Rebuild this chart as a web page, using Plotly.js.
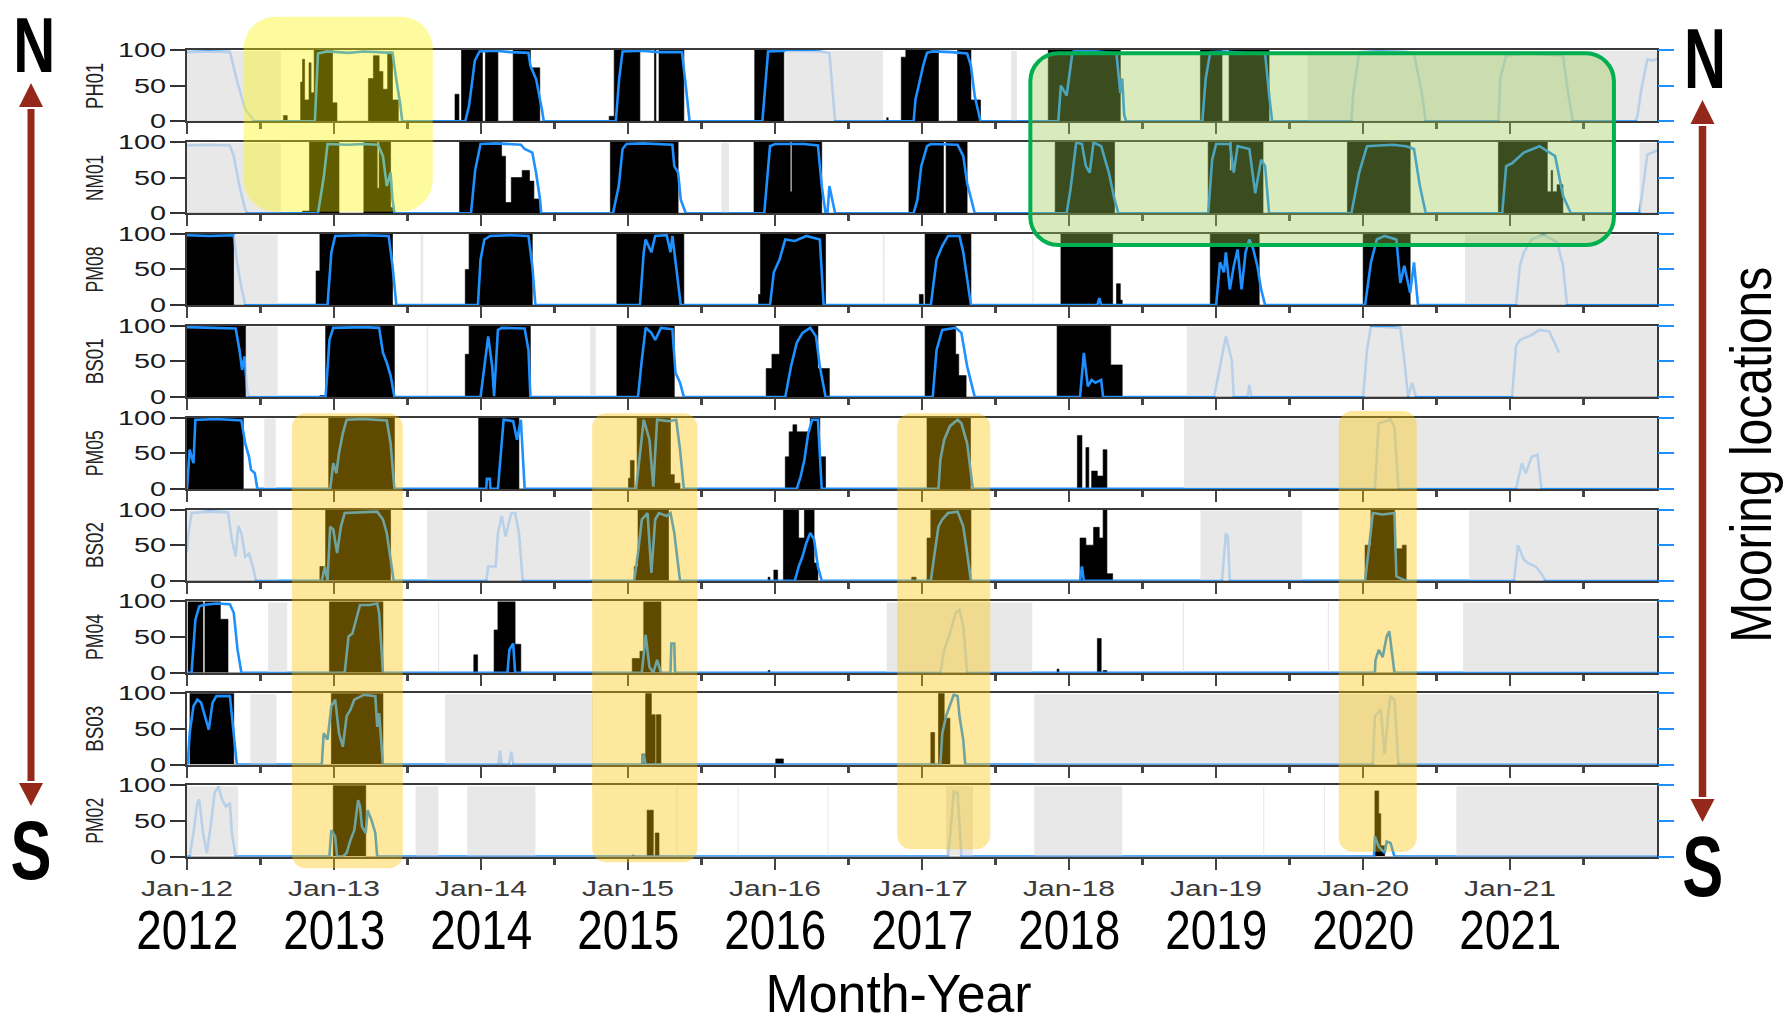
<!DOCTYPE html>
<html><head><meta charset="utf-8">
<script src="https://cdn.plot.ly/plotly-3.0.1.min.js"></script>
<style>
html,body{margin:0;padding:0;background:#fff;}
#chart{width:1785px;height:1024px;}
</style></head><body><div id="chart"></div>
<script>
// ---------- categories / labels ----------
const moorings = ['PH01','NM01','PM08','BS01','PM05','BS02','PM04','BS03','PM02'];
const tickYears = [2012,2013,2014,2015,2016,2017,2018,2019,2020,2021];
const midYears = [2012.5,2013.5,2014.5,2015.5,2016.5,2017.5,2018.5,2019.5,2020.5,2021.5];
const tickLabels = ['Jan-12','Jan-13','Jan-14','Jan-15','Jan-16','Jan-17','Jan-18','Jan-19','Jan-20','Jan-21'];
const yearLabels = ['2012','2013','2014','2015','2016','2017','2018','2019','2020','2021'];
const yTicks = [0,50,100];

// ---------- data: [decimal year, value %] ----------
// black = presence bars (step), blue = percentage line, gray = periods without recording
const ph01Black = [[2012,0],[2012.656,8],[2012.682,0],[2012.773,55],[2012.786,87],[2012.80,30],[2012.83,82],[2012.844,40],[2012.865,100],[2012.99,26],[2013.02,0],[2013.234,60],[2013.268,92],[2013.307,70],[2013.333,45],[2013.365,97],[2013.398,30],[2013.4375,0],[2013.823,38],[2013.85,0],[2013.867,100],[2014.01,0],[2014.03,100],[2014.115,0],[2014.219,100],[2014.336,75],[2014.40,0],[2014.872,7],[2014.906,100],[2015.081,0],[2015.18,100],[2015.19,0],[2015.211,100],[2015.38,0],[2015.862,100],[2016.06,0],[2016.76,5],[2016.77,0],[2016.859,90],[2016.89,100],[2017.112,0],[2017.242,100],[2017.333,30],[2017.398,0],[2017.859,100],[2018.349,0],[2018.894,100],[2019.041,0],[2019.089,100],[2019.361,0],[2022,0]];
const ph01Blue = [[2012,97],[2012.15,98],[2012.292,97],[2012.344,54],[2012.396,17],[2012.461,0],[2012.87,0],[2012.891,95],[2012.95,98],[2013.1,96],[2013.2,98],[2013.3,97],[2013.398,96],[2013.424,58],[2013.45,25],[2013.464,0],[2013.893,0],[2013.919,22],[2013.958,85],[2013.99,98],[2014.1,99],[2014.2,97],[2014.323,96],[2014.336,78],[2014.375,59],[2014.414,17],[2014.427,0],[2014.917,0],[2014.94,60],[2014.963,98],[2015.1,99],[2015.2,97],[2015.367,97],[2015.393,50],[2015.419,0],[2015.914,0],[2015.935,60],[2015.953,98],[2016.1,99],[2016.3,98],[2016.37,96],[2016.409,0],[2016.943,0],[2016.956,31],[2016.982,54],[2017.008,78],[2017.034,96],[2017.073,98],[2017.2,97],[2017.307,95],[2017.333,78],[2017.359,35],[2017.398,0],[2017.927,0],[2017.945,50],[2017.984,36],[2018.023,96],[2018.036,99],[2018.2,98],[2018.323,95],[2018.349,40],[2018.362,60],[2018.375,10],[2018.388,0],[2018.907,0],[2018.93,60],[2018.961,97],[2019.05,98],[2019.2,96],[2019.334,95],[2019.36,40],[2019.382,0],[2019.921,0],[2019.934,40],[2019.974,97],[2020.1,98],[2020.3,97],[2020.347,95],[2020.4,40],[2020.427,0],[2020.921,0],[2020.934,60],[2020.974,92],[2021.1,95],[2021.3,93],[2021.361,92],[2021.388,50],[2021.427,0],[2021.854,0],[2021.867,8],[2021.894,45],[2021.934,87],[2021.974,85],[2022,88]];
const ph01Gray = [[2012,2012.638],[2016.07,2016.734],[2017.607,2017.646],[2019.622,2022]];

const nm01Black = [[2012,0],[2012.786,3],[2012.833,100],[2013.034,0],[2013.203,100],[2013.294,35],[2013.307,100],[2013.385,8],[2013.41,0],[2013.854,100],[2014.14,80],[2014.167,15],[2014.206,50],[2014.28,60],[2014.33,45],[2014.36,20],[2014.40,0],[2014.88,100],[2015.341,0],[2015.857,100],[2016.104,30],[2016.115,100],[2016.318,0],[2016.911,100],[2017.146,0],[2017.164,100],[2017.307,0],[2017.906,100],[2018.31,0],[2018.947,100],[2019.094,60],[2019.107,100],[2019.32,0],[2019.894,100],[2020.321,0],[2020.921,100],[2021.254,30],[2021.28,60],[2021.29,30],[2021.32,40],[2021.36,0],[2022,0]];
const nm01Blue = [[2012,95],[2012.15,96],[2012.292,95],[2012.318,80],[2012.357,38],[2012.396,5],[2012.41,0],[2012.891,0],[2012.93,50],[2012.956,97],[2013.1,96],[2013.2,97],[2013.30,96],[2013.333,80],[2013.359,38],[2013.385,57],[2013.398,19],[2013.411,0],[2013.932,0],[2013.96,60],[2013.997,97],[2014.1,98],[2014.271,96],[2014.297,90],[2014.349,85],[2014.375,56],[2014.401,20],[2014.41,0],[2014.898,0],[2014.937,38],[2014.963,90],[2014.99,97],[2015.1,98],[2015.302,96],[2015.315,66],[2015.341,57],[2015.359,19],[2015.393,0],[2015.927,0],[2015.966,94],[2016.0,97],[2016.2,97],[2016.292,95],[2016.318,38],[2016.344,0],[2016.357,0],[2016.37,38],[2016.39,20],[2016.409,0],[2016.943,0],[2016.969,19],[2016.995,66],[2017.034,94],[2017.06,97],[2017.242,96],[2017.281,80],[2017.307,42],[2017.359,0],[2017.984,0],[2018.01,33],[2018.049,99],[2018.088,97],[2018.115,66],[2018.141,57],[2018.167,99],[2018.219,94],[2018.271,57],[2018.31,19],[2018.336,0],[2018.947,0],[2018.974,75],[2019.001,97],[2019.094,97],[2019.121,57],[2019.147,94],[2019.227,90],[2019.267,28],[2019.307,75],[2019.334,66],[2019.361,0],[2019.921,0],[2019.974,57],[2020.027,94],[2020.2,96],[2020.294,94],[2020.347,90],[2020.387,38],[2020.427,0],[2020.947,0],[2020.974,66],[2021.014,70],[2021.094,85],[2021.201,94],[2021.307,80],[2021.361,24],[2021.414,0],[2021.881,0],[2021.934,82],[2022,88]];
const nm01Gray = [[2012,2012.638],[2015.635,2015.687],[2021.881,2022]];

const pm08Black = [[2012,100],[2012.318,0],[2012.878,48],[2012.904,100],[2013.398,0],[2013.893,50],[2013.919,100],[2014.349,0],[2014.924,100],[2015.38,0],[2015.888,15],[2015.901,100],[2016.344,0],[2016.982,15],[2017.008,0],[2017.021,100],[2017.333,0],[2017.945,100],[2018.297,0],[2018.323,30],[2018.349,7],[2018.362,0],[2018.961,100],[2019.294,0],[2020.001,100],[2020.321,0],[2022,0]];
const pm08Blue = [[2012,98],[2012.15,97],[2012.318,98],[2012.34,60],[2012.37,25],[2012.396,0],[2012.956,0],[2012.982,74],[2013.008,97],[2013.2,98],[2013.372,97],[2013.398,55],[2013.424,0],[2013.979,0],[2013.997,64],[2014.023,92],[2014.0625,97],[2014.2,98],[2014.323,97],[2014.349,55],[2014.37,0],[2015.081,0],[2015.107,74],[2015.12,92],[2015.159,74],[2015.185,97],[2015.263,98],[2015.289,74],[2015.302,97],[2015.328,55],[2015.359,0],[2015.966,0],[2015.992,46],[2016.031,64],[2016.07,92],[2016.135,90],[2016.213,97],[2016.305,92],[2016.331,0],[2017.06,0],[2017.099,64],[2017.138,83],[2017.177,97],[2017.255,97],[2017.281,74],[2017.333,0],[2018.193,0],[2018.206,10],[2018.219,0],[2019.001,0],[2019.027,60],[2019.054,46],[2019.067,74],[2019.094,22],[2019.121,55],[2019.147,78],[2019.174,22],[2019.201,74],[2019.227,92],[2019.254,78],[2019.281,55],[2019.307,22],[2019.334,0],[2020.014,0],[2020.054,60],[2020.094,92],[2020.147,97],[2020.227,92],[2020.254,31],[2020.281,55],[2020.321,17],[2020.347,60],[2020.374,0],[2021.041,0],[2021.067,55],[2021.094,74],[2021.147,92],[2021.227,99],[2021.321,88],[2021.361,55],[2021.388,0],[2022,0]];
const pm08Gray = [[2012.32,2012.617],[2013.589,2013.607],[2016.734,2016.745],[2017.75,2017.758],[2020.694,2022]];

const bs01Black = [[2012,100],[2012.40,0],[2012.904,2],[2012.943,100],[2013.411,0],[2013.893,60],[2013.919,100],[2014.336,0],[2014.924,100],[2015.315,0],[2015.94,40],[2015.979,60],[2016.031,100],[2016.292,40],[2016.37,0],[2017.021,100],[2017.229,60],[2017.25,30],[2017.3,0],[2017.919,100],[2018.284,45],[2018.362,0],[2022,0]];
const bs01Blue = [[2012,98],[2012.15,97],[2012.331,96],[2012.357,66],[2012.375,38],[2012.391,57],[2012.409,10],[2012.42,0],[2012.943,0],[2012.969,80],[2012.995,97],[2013.2,98],[2013.307,97],[2013.333,62],[2013.359,48],[2013.385,30],[2013.411,0],[2013.997,0],[2014.023,43],[2014.049,85],[2014.076,43],[2014.089,1],[2014.115,94],[2014.141,97],[2014.297,96],[2014.323,66],[2014.336,0],[2015.068,0],[2015.094,52],[2015.12,97],[2015.159,90],[2015.185,80],[2015.224,97],[2015.302,95],[2015.323,34],[2015.354,20],[2015.38,0],[2016.07,0],[2016.109,43],[2016.148,76],[2016.187,90],[2016.24,97],[2016.279,85],[2016.305,43],[2016.344,0],[2017.073,0],[2017.099,66],[2017.138,94],[2017.229,97],[2017.268,90],[2017.307,43],[2017.359,0],[2018.075,0],[2018.101,62],[2018.128,15],[2018.154,24],[2018.18,20],[2018.219,24],[2018.232,0],[2018.987,0],[2019.067,85],[2019.107,52],[2019.121,0],[2019.214,0],[2019.227,17],[2019.241,0],[2020.001,0],[2020.027,66],[2020.054,99],[2020.081,99],[2020.254,97],[2020.281,52],[2020.307,0],[2020.334,20],[2020.361,0],[2021.014,0],[2021.041,71],[2021.067,80],[2021.147,87],[2021.201,94],[2021.267,92],[2021.334,62]];
const bs01Gray = [[2012.40,2012.617],[2013.63,2013.64],[2014.742,2014.781],[2018.801,2022]];

const pm05Black = [[2012,100],[2012.383,0],[2012.964,100],[2013.411,0],[2013.984,100],[2014.258,0],[2015.003,15],[2015.016,40],[2015.042,0],[2015.062,100],[2015.289,20],[2015.315,8],[2015.354,0],[2016.07,45],[2016.096,80],[2016.122,90],[2016.148,80],[2016.24,100],[2016.305,45],[2016.344,0],[2017.034,100],[2017.30,100],[2017.33,0],[2018.057,75],[2018.088,0],[2018.115,58],[2018.135,0],[2018.154,25],[2018.193,18],[2018.232,55],[2018.258,0],[2022,0]];
const pm05Blue = [[2012,0],[2012.018,55],[2012.044,36],[2012.057,97],[2012.083,97],[2012.2,98],[2012.37,96],[2012.396,64],[2012.422,45],[2012.435,27],[2012.461,22],[2012.479,0],[2012.974,0],[2012.995,36],[2013.016,22],[2013.034,50],[2013.06,78],[2013.086,97],[2013.2,98],[2013.359,96],[2013.385,64],[2013.411,0],[2014.036,0],[2014.04,14],[2014.06,14],[2014.064,0],[2014.115,0],[2014.141,69],[2014.154,97],[2014.219,95],[2014.245,69],[2014.271,97],[2014.297,0],[2015.055,0],[2015.094,78],[2015.107,97],[2015.146,69],[2015.172,3],[2015.198,97],[2015.276,95],[2015.328,97],[2015.354,55],[2015.38,0],[2016.148,0],[2016.174,17],[2016.2,41],[2016.226,78],[2016.253,97],[2016.292,97],[2016.318,0],[2017.112,0],[2017.125,41],[2017.151,69],[2017.19,88],[2017.242,97],[2017.268,92],[2017.307,64],[2017.346,0],[2020.081,0],[2020.107,92],[2020.187,97],[2020.214,87],[2020.241,0],[2021.041,0],[2021.081,36],[2021.107,22],[2021.147,45],[2021.187,48],[2021.214,0],[2022,0]];
const pm05Gray = [[2012.526,2012.604],[2018.782,2022]];

const bs02Black = [[2012,0],[2012.904,20],[2012.943,100],[2013.385,0],[2015.042,20],[2015.068,100],[2015.276,0],[2015.953,5],[2015.966,0],[2015.992,15],[2016.018,0],[2016.057,100],[2016.161,60],[2016.2,100],[2016.266,25],[2016.292,0],[2016.93,5],[2016.96,0],[2017.034,60],[2017.06,100],[2017.333,0],[2018.075,60],[2018.115,50],[2018.167,75],[2018.206,60],[2018.232,100],[2018.258,10],[2018.297,0],[2020.014,50],[2020.054,100],[2020.214,45],[2020.267,50],[2020.294,0],[2022,0]];
const bs02Blue = [[2012,40],[2012.01,67],[2012.031,95],[2012.15,97],[2012.279,96],[2012.305,58],[2012.331,34],[2012.349,77],[2012.37,67],[2012.396,34],[2012.422,38],[2012.448,20],[2012.469,0],[2012.917,0],[2012.9375,20],[2012.956,0],[2012.974,76],[2012.995,72],[2013.021,39],[2013.047,76],[2013.073,95],[2013.294,97],[2013.333,86],[2013.359,67],[2013.385,30],[2013.406,0],[2014.036,0],[2014.049,20],[2014.10,20],[2014.115,67],[2014.141,91],[2014.167,62],[2014.206,95],[2014.232,95],[2014.258,67],[2014.284,0],[2015.042,0],[2015.068,39],[2015.094,86],[2015.133,95],[2015.159,11],[2015.185,86],[2015.211,95],[2015.263,91],[2015.289,95],[2015.315,67],[2015.354,0],[2016.135,0],[2016.161,20],[2016.187,34],[2016.213,53],[2016.24,67],[2016.266,58],[2016.292,20],[2016.318,0],[2017.06,0],[2017.086,39],[2017.112,76],[2017.138,86],[2017.177,95],[2017.242,97],[2017.281,76],[2017.307,39],[2017.333,0],[2018.075,0],[2018.088,20],[2018.101,0],[2019.041,0],[2019.067,67],[2019.081,62],[2019.094,0],[2020.014,0],[2020.041,48],[2020.067,95],[2020.134,93],[2020.214,95],[2020.227,6],[2020.281,1],[2020.307,0],[2021.027,0],[2021.054,50],[2021.094,30],[2021.121,25],[2021.174,20],[2021.214,10],[2021.241,0],[2022,0]];
const bs02Gray = [[2012,2012.617],[2013.633,2014.742],[2018.894,2019.587],[2020.721,2022]];

const pm04Black = [[2012.005,100],[2012.109,0],[2012.122,100],[2012.227,75],[2012.279,0],[2012.969,100],[2013.333,0],[2013.951,25],[2013.977,0],[2014.089,60],[2014.115,100],[2014.232,40],[2014.271,0],[2015.029,20],[2015.081,30],[2015.107,100],[2015.224,0],[2015.953,3],[2015.966,0],[2017.919,5],[2017.932,0],[2018.193,48],[2018.219,0],[2018.232,3],[2018.258,0],[2022,0]];
const pm04Blue = [[2012,0],[2012.031,0],[2012.057,74],[2012.083,93],[2012.109,95],[2012.2,97],[2012.292,96],[2012.318,84],[2012.344,32],[2012.37,0],[2013.073,0],[2013.099,51],[2013.125,55],[2013.151,74],[2013.177,95],[2013.242,95],[2013.294,97],[2013.307,84],[2013.32,41],[2013.333,0],[2014.18,0],[2014.193,32],[2014.219,41],[2014.232,0],[2015.094,0],[2015.12,53],[2015.146,8],[2015.172,0],[2015.198,18],[2015.224,0],[2015.289,0],[2015.295,41],[2015.315,41],[2015.32,0],[2017.125,0],[2017.151,32],[2017.19,55],[2017.229,84],[2017.255,88],[2017.281,65],[2017.307,0],[2020.081,0],[2020.085,18],[2020.107,32],[2020.134,22],[2020.161,51],[2020.179,58],[2020.201,18],[2020.214,0],[2022,0]];
const pm04Gray = [[2012.552,2012.682],[2013.707,2013.715],[2016.76,2017.75],[2018.774,2018.782],[2019.761,2019.769],[2020.681,2022]];

const bs03Black = [[2012.018,100],[2012.318,0],[2012.982,100],[2013.333,0],[2015.094,15],[2015.12,100],[2015.159,70],[2015.185,0],[2015.193,70],[2015.224,0],[2016.005,8],[2016.057,0],[2017.06,45],[2017.086,0],[2017.112,100],[2017.151,65],[2017.19,0],[2022,0]];
const bs03Blue = [[2012,0],[2012.005,0],[2012.018,44],[2012.044,82],[2012.07,91],[2012.096,87],[2012.122,68],[2012.148,49],[2012.174,87],[2012.2,96],[2012.292,96],[2012.318,44],[2012.339,0],[2012.917,0],[2012.93,44],[2012.956,35],[2012.982,82],[2013.008,91],[2013.034,44],[2013.06,25],[2013.086,68],[2013.112,77],[2013.138,91],[2013.203,98],[2013.281,96],[2013.294,53],[2013.307,72],[2013.333,0],[2014.12,0],[2014.128,20],[2014.141,0],[2014.19,0],[2014.206,18],[2014.22,0],[2015.094,0],[2015.107,15],[2015.12,0],[2017.125,0],[2017.138,44],[2017.164,68],[2017.19,82],[2017.216,98],[2017.242,96],[2017.255,68],[2017.281,34],[2017.294,0],[2020.067,0],[2020.081,68],[2020.121,77],[2020.147,15],[2020.174,77],[2020.187,96],[2020.214,91],[2020.241,0],[2022,0]];
const bs03Gray = [[2012.43,2012.609],[2013.755,2014.76],[2017.763,2022]];

const pm02Black = [[2012,0],[2012.995,100],[2013.216,0],[2015.029,2],[2015.042,0],[2015.13,65],[2015.172,0],[2015.185,33],[2015.211,0],[2020.081,92],[2020.107,60],[2020.121,15],[2020.147,0],[2022,0]];
const pm02Blue = [[2012,0],[2012.018,0],[2012.044,33],[2012.07,75],[2012.083,80],[2012.109,33],[2012.135,5],[2012.161,42],[2012.1875,89],[2012.214,98],[2012.24,79],[2012.266,70],[2012.292,75],[2012.305,33],[2012.331,0],[2012.969,0],[2012.982,37],[2013.008,28],[2013.021,0],[2013.06,0],[2013.086,5],[2013.112,23],[2013.138,37],[2013.164,79],[2013.177,70],[2013.19,42],[2013.216,33],[2013.229,65],[2013.255,51],[2013.281,33],[2013.294,0],[2017.177,0],[2017.203,56],[2017.216,91],[2017.242,89],[2017.255,42],[2017.268,0],[2020.075,0],[2020.081,28],[2020.107,14],[2020.147,5],[2020.161,21],[2020.187,19],[2020.214,0],[2022,0]];
const pm02Gray = [[2012,2012.349],[2013.555,2013.711],[2013.906,2014.37],[2015.328,2015.335],[2015.745,2015.752],[2016.357,2016.364],[2017.164,2017.346],[2017.763,2018.362],[2019.321,2019.328],[2019.734,2019.741],[2020.635,2022]];

const blackSeries = [ph01Black,nm01Black,pm08Black,bs01Black,pm05Black,bs02Black,pm04Black,bs03Black,pm02Black];
const blueSeries  = [ph01Blue,nm01Blue,pm08Blue,bs01Blue,pm05Blue,bs02Blue,pm04Blue,bs03Blue,pm02Blue];
const graySeries  = [ph01Gray,nm01Gray,pm08Gray,bs01Gray,pm05Gray,bs02Gray,pm04Gray,bs03Gray,pm02Gray];

// highlighted periods: [start, end] in decimal years, vertical extent in page pixels
const highlightStart = [2012.385, 2017.737, 2012.713, 2014.756, 2016.831, 2019.835];
const highlightEnd   = [2013.672, 2021.707, 2013.468, 2015.472, 2017.464, 2020.366];
const highlightTopPx = [16.7, 53.3, 413.3, 413.3, 413.3, 411];
const highlightBotPx = [211.7, 245, 868.3, 862.3, 849.3, 851.7];
const highlightFill  = ['rgba(250,245,0,0.38)','rgba(155,200,80,0.38)','rgba(250,195,0,0.38)','rgba(250,195,0,0.38)','rgba(250,195,0,0.38)','rgba(250,195,0,0.38)'];
const highlightLine  = [null,'#00b050',null,null,null,null];
const highlightRadius= [32,28,14,14,14,14];

// ---------- geometry ----------
const W = 1785, H = 1024;
const L = 187, R = 128, T = 50, B = 167;
const plotW = W - L - R, plotH = H - T - B;
const pitch = 91.9, panelH = 71.3;
const px2x = p => (p - L) / plotW;
const px2y = p => (T + plotH - p) / plotH;
const SANS = 'Liberation Sans, Arial, sans-serif';
const red = '#94281a';

const traces = [];
const layout = {
  width: W, height: H, margin: {l: L, r: R, t: T, b: B},
  paper_bgcolor: '#fff', plot_bgcolor: '#fff', showlegend: false,
  shapes: [], annotations: []
};

moorings.forEach((name, i) => {
  const s = i === 0 ? '' : String(i + 1);
  const s2 = String(i + 10);
  const top = 1 - (i * pitch) / plotH;
  const bot = top - panelH / plotH;
  const blk = blackSeries[i], blu = blueSeries[i];
  traces.push({
    type: 'scatter', mode: 'lines', x: blk.map(d => d[0]), y: blk.map(d => d[1]),
    xaxis: 'x' + s, yaxis: 'y' + s, line: {shape: 'hv', width: 0.6, color: '#000'},
    fill: 'tozeroy', fillcolor: '#000', hoverinfo: 'skip'
  });
  traces.push({
    type: 'scatter', mode: 'lines', x: blu.map(d => d[0]), y: blu.map(d => d[1]),
    xaxis: 'x' + s, yaxis: 'y' + s2, line: {width: 2.6, color: '#1e90ff'}, hoverinfo: 'skip'
  });
  layout['xaxis' + s] = {
    domain: [0, 1], range: [2012, 2022], anchor: 'y' + s,
    showline: true, mirror: true, linecolor: '#3a3a3a', linewidth: 2,
    ticks: 'outside', ticklen: 11, tickwidth: 2.2, tickcolor: '#444',
    tickmode: 'array', tickvals: tickYears, ticktext: tickLabels,
    showticklabels: i === moorings.length - 1,
    tickfont: {family: SANS, size: 22, color: '#3a3a3a'},
    minor: {ticks: 'outside', ticklen: 6, tickwidth: 2.2, tickcolor: '#444', tickmode: 'array', tickvals: midYears},
    showgrid: false, zeroline: false, fixedrange: true
  };
  layout['yaxis' + s] = {
    domain: [bot, top], range: [0, 100], anchor: 'x' + s,
    showline: true, mirror: true, linecolor: '#3a3a3a', linewidth: 2,
    ticks: 'outside', ticklen: 15, tickwidth: 2, tickcolor: '#333',
    tickmode: 'array', tickvals: yTicks,
    tickfont: {family: SANS, size: 20, color: '#1a1a1a'},
    showgrid: false, zeroline: false, fixedrange: true
  };
  layout['yaxis' + s2] = {
    overlaying: 'y' + s, anchor: 'x' + s, side: 'right', range: [0, 100],
    showline: false, ticks: 'outside', ticklen: 16, tickwidth: 2, tickcolor: '#1e90ff',
    tickmode: 'array', tickvals: yTicks, showticklabels: false,
    showgrid: false, zeroline: false, fixedrange: true
  };
  graySeries[i].forEach(g => {
    layout.shapes.push({type: 'rect', xref: 'x' + s, yref: 'y' + s, x0: g[0], x1: g[1], y0: 1.4, y1: 98.6,
      fillcolor: '#e2e2e2', opacity: 0.79, line: {width: 0}, layer: 'above'});
  });
  layout.annotations.push({xref: 'paper', yref: 'paper', x: px2x(95), y: (top + bot) / 2,
    text: name, textangle: -90, showarrow: false, xanchor: 'center', yanchor: 'middle',
    font: {family: SANS, size: 23, color: '#222'}});
});

// highlight boxes with rounded corners
function roundRect(x0, x1, y0, y1, rx, ry) {
  const k = 0.45;
  return `M ${x0+rx},${y1} L ${x1-rx},${y1} C ${x1-rx*k},${y1} ${x1},${y1-ry*k} ${x1},${y1-ry} ` +
         `L ${x1},${y0+ry} C ${x1},${y0+ry*k} ${x1-rx*k},${y0} ${x1-rx},${y0} ` +
         `L ${x0+rx},${y0} C ${x0+rx*k},${y0} ${x0},${y0+ry*k} ${x0},${y0+ry} ` +
         `L ${x0},${y1-ry} C ${x0},${y1-ry*k} ${x0+rx*k},${y1} ${x0+rx},${y1} Z`;
}
highlightStart.forEach((t0, k) => {
  const x0 = (t0 - 2012) / 10, x1 = (highlightEnd[k] - 2012) / 10;
  const y1 = px2y(highlightTopPx[k]), y0 = px2y(highlightBotPx[k]);
  const r = highlightRadius[k];
  layout.shapes.push({type: 'path', xref: 'paper', yref: 'paper', layer: 'above',
    path: roundRect(x0, x1, y0, y1, r / plotW, r / plotH),
    fillcolor: highlightFill[k],
    line: highlightLine[k] ? {color: highlightLine[k], width: 4} : {width: 0}});
});

// north-south arrows
function vArrow(xp, tipTop, baseTop, baseBot, tipBot, half, w) {
  layout.shapes.push({type: 'line', xref: 'paper', yref: 'paper', layer: 'above',
    x0: px2x(xp), x1: px2x(xp), y0: px2y(baseTop + 2), y1: px2y(baseBot - 2), line: {color: red, width: w}});
  [[tipTop, baseTop], [tipBot, baseBot]].forEach(([tip, base]) => {
    layout.shapes.push({type: 'path', xref: 'paper', yref: 'paper', layer: 'above',
      path: `M ${px2x(xp)},${px2y(tip)} L ${px2x(xp - half)},${px2y(base)} L ${px2x(xp + half)},${px2y(base)} Z`,
      fillcolor: red, line: {width: 0}});
  });
}
vArrow(31, 83, 107, 783, 806, 12, 7);
vArrow(1702.5, 100, 124, 799, 822, 12, 7.5);

function txt(xp, yp, text, size, opts) {
  layout.annotations.push(Object.assign({xref: 'paper', yref: 'paper', x: px2x(xp), y: px2y(yp),
    text: text, showarrow: false, xanchor: 'center', yanchor: 'middle', borderpad: 0,
    font: {family: SANS, size: size, color: '#000'}}, opts || {}));
}
txt(33.5, 45, '<b>N</b>', 78);
txt(31, 850, '<b>S</b>', 84);
txt(1704.5, 58, '<b>N</b>', 86);
txt(1702.5, 866, '<b>S</b>', 86);
txt(1751, 455, 'Mooring locations', 58, {textangle: -90});
txt(898, 993, 'Month-Year', 54);
yearLabels.forEach((lab, k) => {
  layout.annotations.push({xref: 'x9', yref: 'paper', x: tickYears[k], y: px2y(929),
    text: lab, showarrow: false, xanchor: 'center', yanchor: 'middle',
    font: {family: SANS, size: 56, color: '#000'}});
});

// the source figure uses horizontally condensed / stretched lettering: fit text lengths
const textFit = {'Month-Year': 266, 'Mooring locations': 376, 'N': 42, 'S': 41};
yearLabels.forEach(y => { textFit[y] = 102; });
moorings.forEach(m => { textFit[m] = 46; });
const tickFit = {'100': 48, '50': 32, '0': 16};
tickLabels.forEach(t => { tickFit[t] = 92; });

const gd = document.getElementById('chart');
function applyFit() {
  const fit = (el, len) => {
    el.setAttribute('textLength', len);
    el.setAttribute('lengthAdjust', 'spacingAndGlyphs');
  };
  gd.querySelectorAll('.annotation-text').forEach(el => {
    const key = el.textContent.trim();
    if (textFit[key]) fit(el, textFit[key]);
  });
  gd.querySelectorAll('.xaxislayer-above text, .yaxislayer-above text').forEach(el => {
    const key = el.textContent.trim();
    if (tickFit[key]) fit(el, tickFit[key]);
  });
}
Plotly.newPlot(gd, traces, layout, {displayModeBar: false, staticPlot: true}).then(() => {
  applyFit();
  gd.on('plotly_afterplot', applyFit);
  setTimeout(applyFit, 50);
});
</script></body></html>
